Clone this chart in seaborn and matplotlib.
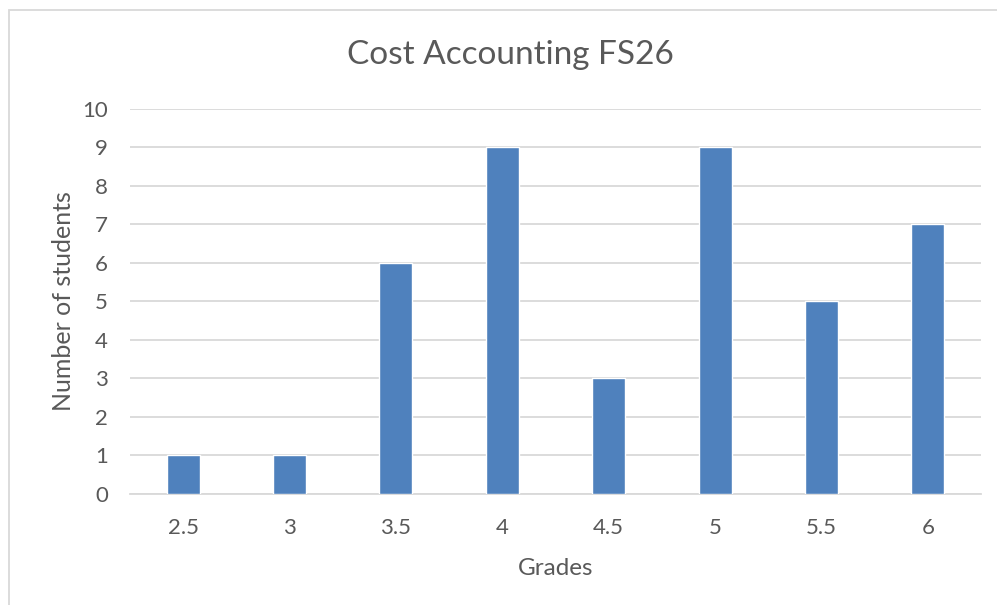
import matplotlib
matplotlib.use("Agg")
import matplotlib.pyplot as plt
import seaborn as sns
import pandas as pd
from matplotlib.patches import Rectangle

grades = ["2.5", "3", "3.5", "4", "4.5", "5", "5.5", "6"]
students = [1, 1, 6, 9, 3, 9, 5, 7]

sns.set_style("white")
plt.rcParams["font.family"] = ["Lato", "DejaVu Sans"]
txt = "#595959"

df = pd.DataFrame({"grade": grades, "n": students})

fig = plt.figure(figsize=(9.97, 6.05), dpi=100)
ax = fig.add_axes([130 / 997, 111 / 605, 851 / 997, 385.3 / 605])

sns.barplot(data=df, x="grade", y="n", color="#4F81BD", saturation=1,
            width=0.31, ax=ax, zorder=3)

ax.set_xlim(-0.5, 7.5)
ax.set_ylim(0, 10)
ax.set_yticks(range(0, 11))
ax.grid(axis="y", color="#D9D9D9", linewidth=1.3, zorder=0)
for s in ["top", "right", "left"]:
    ax.spines[s].set_visible(False)
ax.spines["bottom"].set_color("#D9D9D9")
ax.spines["bottom"].set_linewidth(1.3)
ax.tick_params(axis="both", length=0, labelsize=16, labelcolor=txt)
ax.tick_params(axis="y", pad=16)
ax.tick_params(axis="x", pad=17)

ax.set_xlabel("Grades", fontsize=17.5, color=txt, labelpad=15)
ax.set_ylabel("Number of students", fontsize=18, color=txt, labelpad=5)
fig.text(510 / 997, 1 - 55 / 605, "Cost Accounting FS26", fontsize=24,
         color=txt, ha="center", va="center")

fig.patches.append(Rectangle((9 / 997, -0.1), 1.2, 1 - 10 / 605 + 0.1,
                             transform=fig.transFigure, fill=False,
                             edgecolor="#D9D9D9", linewidth=1.3))

fig.savefig("out.png", dpi=100)
